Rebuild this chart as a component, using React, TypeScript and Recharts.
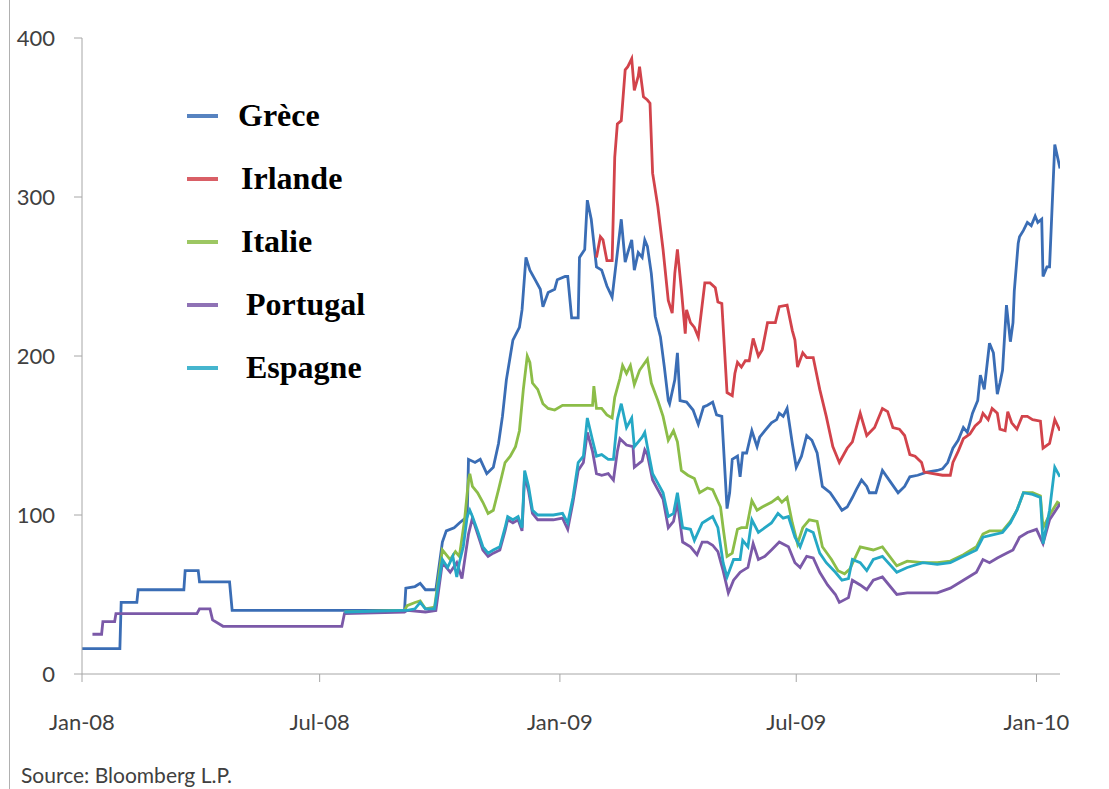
import { LineChart, Line, XAxis, YAxis } from "recharts";

// x = days since 1 Jan 2008, y = CDS spread (bp)
const tickDays = [0, 182, 366, 547, 731];
const tickLabels = ["Jan-08", "Jul-08", "Jan-09", "Jul-09", "Jan-10"];
const yTicks = [0, 100, 200, 300, 400];

const greece: [number, number][] = [
  [0, 16], [29, 16], [30, 45], [42, 45], [43, 53], [78, 53], [79, 65], [89, 65], [90, 58], [113, 58],
  [115, 40], [247, 40], [248, 54], [255, 55], [259, 57], [263, 53], [271, 53], [276, 83], [279, 90],
  [285, 92], [289, 95], [295, 99], [296, 135], [301, 133], [305, 135], [310, 126], [315, 130], [319, 145],
  [322, 162], [325, 185], [328, 200], [330, 210], [335, 218], [337, 229], [340, 262], [343, 254], [347, 248],
  [351, 242], [353, 231], [357, 240], [362, 242], [364, 248], [370, 250], [372, 250], [375, 224], [380, 224],
  [381, 262], [385, 267], [387, 298], [390, 286], [394, 256], [398, 254], [402, 244], [406, 237], [410, 265],
  [413, 286], [416, 259], [418, 265], [421, 273], [423, 254], [426, 265], [429, 262], [431, 273], [433, 269],
  [436, 252], [439, 225], [443, 212], [446, 193], [449, 172], [450, 170], [454, 185], [456, 202], [458, 172],
  [463, 171], [468, 166], [472, 157], [476, 168], [479, 169], [483, 171], [486, 163], [490, 162], [494, 104],
  [496, 114], [498, 135], [502, 137], [504, 124], [506, 139], [509, 139], [513, 153], [517, 143], [519, 149],
  [523, 153], [528, 158], [532, 160], [534, 164], [537, 162], [540, 167], [544, 145], [547, 130], [551, 137],
  [555, 150], [559, 147], [563, 139], [567, 118], [573, 114], [578, 108], [582, 103], [586, 105], [590, 111],
  [593, 116], [597, 122], [601, 118], [603, 114], [608, 114], [613, 128], [619, 121], [625, 114], [630, 118],
  [634, 124], [640, 125], [647, 127], [655, 128], [659, 129], [663, 133], [667, 142], [671, 147], [675, 155],
  [678, 152], [682, 164], [686, 172], [688, 188], [691, 179], [695, 208], [698, 202], [701, 176], [703, 183],
  [705, 191], [708, 232], [711, 209], [713, 221], [714, 241], [717, 271], [718, 275], [721, 279], [724, 284],
  [727, 282], [730, 288], [732, 284], [735, 286], [736, 250], [739, 256], [741, 256], [745, 333], [749, 318],
];

const irlande: [number, number][] = [
  [394, 262], [397, 275], [399, 273], [402, 260], [406, 260], [408, 325], [410, 346], [413, 348], [416, 380],
  [418, 382], [421, 387], [423, 367], [426, 376], [427, 382], [430, 363], [433, 361], [435, 359], [437, 315],
  [441, 294], [445, 267], [449, 235], [452, 227], [454, 252], [456, 267], [459, 242], [462, 214], [463, 229],
  [466, 221], [469, 218], [472, 212], [477, 246], [481, 246], [485, 243], [487, 234], [490, 233], [494, 177],
  [498, 175], [500, 189], [502, 196], [505, 193], [508, 197], [511, 197], [514, 211], [518, 200], [521, 204],
  [525, 221], [531, 221], [534, 231], [540, 232], [544, 216], [546, 210], [548, 193], [552, 202], [555, 199],
  [560, 199], [565, 179], [570, 162], [575, 143], [580, 133], [586, 142], [590, 146], [596, 164], [601, 150],
  [607, 155], [613, 167], [617, 165], [621, 155], [626, 154], [630, 150], [634, 138], [638, 137], [643, 133],
  [645, 127], [659, 125], [665, 125], [667, 133], [671, 140], [675, 148], [680, 151], [684, 156], [688, 159],
  [690, 164], [694, 160], [697, 167], [701, 164], [703, 154], [707, 153], [709, 165], [712, 158], [716, 154],
  [720, 162], [724, 162], [728, 160], [734, 159], [736, 142], [741, 145], [745, 160], [749, 153],
];

const italie: [number, number][] = [
  [201, 39], [247, 40], [249, 43], [255, 45], [259, 46], [263, 41], [270, 42], [276, 78], [282, 72], [286, 77],
  [289, 74], [293, 97], [296, 122], [297, 126], [299, 118], [303, 114], [307, 108], [311, 101], [315, 103],
  [319, 116], [324, 133], [328, 137], [332, 143], [335, 153], [338, 179], [341, 200], [343, 196], [345, 183],
  [349, 179], [353, 170], [357, 167], [362, 166], [368, 169], [391, 169], [392, 181], [394, 167], [398, 167],
  [402, 163], [406, 161], [408, 174], [412, 186], [414, 194], [417, 189], [420, 194], [423, 182], [427, 191],
  [433, 198], [436, 183], [441, 172], [445, 162], [449, 147], [453, 153], [456, 146], [459, 128], [464, 125],
  [469, 123], [473, 114], [479, 117], [483, 116], [489, 105], [491, 92], [494, 74], [498, 76], [502, 91],
  [505, 92], [509, 92], [513, 109], [517, 103], [521, 105], [528, 108], [533, 111], [536, 108], [540, 111],
  [544, 95], [548, 82], [552, 92], [557, 97], [563, 96], [567, 80], [574, 72], [579, 65], [584, 63], [588, 66],
  [596, 80], [606, 78], [613, 80], [624, 68], [632, 71], [644, 70], [655, 70], [665, 71], [675, 75], [685, 80],
  [690, 88], [695, 90], [705, 90], [711, 96], [716, 103], [721, 114], [728, 114], [734, 112], [736, 92],
  [741, 100], [747, 108], [749, 107],
];

const portugal: [number, number][] = [
  [8, 25], [15, 25], [16, 33], [25, 33], [26, 38], [88, 38], [90, 41], [98, 41], [100, 34], [108, 30],
  [199, 30], [201, 38], [247, 39], [249, 40], [263, 39], [271, 40], [276, 70], [282, 64], [287, 70], [291, 60],
  [296, 88], [299, 98], [303, 88], [307, 78], [311, 74], [315, 76], [320, 78], [324, 90], [326, 97], [330, 95],
  [334, 97], [337, 90], [339, 125], [342, 115], [345, 101], [349, 97], [361, 97], [368, 98], [372, 91],
  [376, 108], [380, 128], [384, 133], [387, 152], [391, 140], [394, 126], [398, 125], [403, 126], [407, 122],
  [410, 140], [412, 148], [417, 144], [422, 143], [423, 130], [429, 134], [431, 141], [433, 138], [437, 122],
  [441, 116], [445, 110], [449, 92], [453, 96], [456, 108], [460, 83], [466, 80], [471, 75], [475, 83],
  [479, 83], [483, 81], [487, 77], [491, 65], [495, 51], [499, 59], [504, 64], [506, 65], [510, 67], [514, 82],
  [518, 72], [523, 74], [528, 78], [534, 83], [541, 80], [546, 70], [550, 67], [555, 74], [560, 73], [565, 64],
  [571, 56], [577, 50], [580, 45], [587, 48], [590, 59], [596, 56], [601, 53], [606, 59], [613, 61], [624, 50],
  [632, 51], [644, 51], [655, 51], [665, 54], [675, 59], [685, 64], [690, 72], [695, 70], [701, 73], [708, 76],
  [713, 78], [718, 86], [724, 89], [731, 91], [736, 82], [741, 97], [749, 107],
];

const espagne: [number, number][] = [
  [201, 39], [247, 40], [249, 40], [255, 41], [259, 45], [263, 41], [270, 41], [276, 72], [280, 67], [284, 74],
  [287, 61], [289, 70], [292, 80], [295, 99], [297, 103], [299, 99], [303, 90], [307, 80], [311, 76], [315, 78],
  [320, 80], [324, 92], [326, 99], [330, 97], [334, 99], [337, 92], [339, 128], [342, 118], [345, 103],
  [349, 100], [361, 100], [368, 101], [372, 95], [376, 111], [380, 133], [384, 137], [387, 161], [391, 147],
  [394, 137], [398, 138], [403, 135], [407, 135], [410, 160], [413, 170], [417, 155], [421, 161], [423, 143],
  [429, 149], [431, 152], [433, 143], [437, 126], [441, 120], [445, 114], [449, 99], [453, 101], [456, 114],
  [460, 92], [466, 91], [469, 84], [475, 95], [479, 97], [483, 99], [487, 92], [491, 70], [494, 61], [499, 72],
  [504, 72], [506, 84], [510, 80], [513, 97], [518, 89], [523, 92], [528, 95], [533, 101], [537, 98], [541, 99],
  [546, 86], [550, 80], [555, 91], [560, 89], [565, 76], [570, 70], [577, 64], [582, 59], [587, 60], [590, 72],
  [596, 70], [601, 65], [606, 72], [613, 74], [624, 64], [632, 67], [644, 70], [655, 69], [665, 70], [675, 74],
  [685, 78], [690, 86], [695, 87], [705, 89], [711, 95], [716, 103], [721, 114], [728, 113], [734, 111],
  [736, 82], [741, 103], [745, 130], [749, 124],
];

const series = [
  { name: "Grèce", color: "#3a6db5", points: greece },
  { name: "Irlande", color: "#d2434b", points: irlande },
  { name: "Italie", color: "#8cbd48", points: italie },
  { name: "Portugal", color: "#7b59a8", points: portugal },
  { name: "Espagne", color: "#25a8c5", points: espagne },
];

const legendIndent = [0, 3, 3, 8, 8];
const axisColor = "#a6a6a6";
const tickStyle = { fill: "#404040", fontSize: 22, fontFamily: "Lato" };

function LegendBox() {
  return (
    <div style={{ position: "absolute", left: 187, top: 84 }}>
      {series.map((s, i) => (
        <div key={s.name} style={{ display: "flex", alignItems: "center", height: 63 }}>
          <div style={{ width: 31, height: 4, background: s.color, opacity: 0.85 }} />
          <span
            style={{
              marginLeft: 20 + legendIndent[i],
              fontFamily: "'Liberation Serif', serif",
              fontWeight: "bold",
              fontSize: 32,
              color: "#000",
            }}
          >
            {s.name}
          </span>
        </div>
      ))}
    </div>
  );
}

export default function App() {
  return (
    <div style={{ position: "absolute", left: 0, top: 0, width: 1109, height: 789, background: "#fff" }}>
      <div style={{ position: "absolute", left: 9, top: 0, width: 1, height: 789, background: "#b0b0b0" }} />
      <LineChart width={1109} height={789} margin={{ top: 38, right: 49, left: 0, bottom: 0 }}>
        <XAxis
          dataKey="d"
          type="number"
          domain={[0, 749]}
          ticks={tickDays}
          tickFormatter={(d: number) => tickLabels[tickDays.indexOf(d)]}
          height={115}
          tickSize={8}
          tickMargin={32}
          axisLine={{ stroke: axisColor }}
          tickLine={{ stroke: axisColor }}
          tick={tickStyle}
          allowDataOverflow
        />
        <YAxis
          type="number"
          domain={[0, 400]}
          ticks={yTicks}
          width={82}
          tickSize={8}
          tickMargin={19}
          axisLine={{ stroke: axisColor }}
          tickLine={{ stroke: axisColor }}
          tick={tickStyle}
        />
        {series.map((s) => (
          <Line
            key={s.name}
            data={s.points.map(([d, v]) => ({ d, v }))}
            dataKey="v"
            name={s.name}
            type="linear"
            stroke={s.color}
            strokeWidth={2.8}
            dot={false}
            isAnimationActive={false}
          />
        ))}
      </LineChart>
      <LegendBox />
      <div
        style={{
          position: "absolute",
          left: 21,
          top: 762,
          fontFamily: "Lato",
          fontSize: 21,
          color: "#404040",
        }}
      >
        Source: Bloomberg L.P.
      </div>
    </div>
  );
}
